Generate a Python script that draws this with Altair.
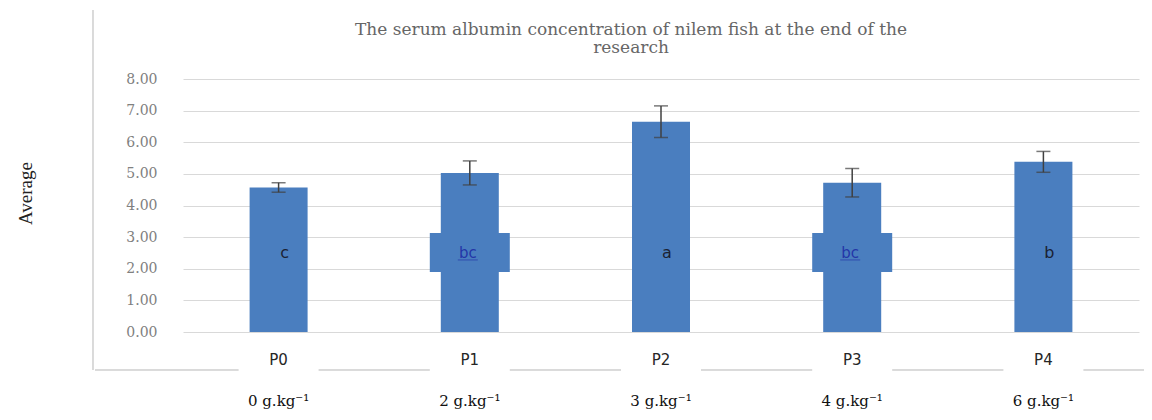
import altair as alt
import pandas as pd

# ---- data ----
title_text = "The serum albumin concentration of nilem fish at the end of the\nresearch"
groups = ["P0", "P1", "P2", "P3", "P4"]
doses = ["0 g.kg\u207b\u00b9", "2 g.kg\u207b\u00b9", "3 g.kg\u207b\u00b9", "4 g.kg\u207b\u00b9", "6 g.kg\u207b\u00b9"]
means = [4.57, 5.03, 6.65, 4.72, 5.38]
errors = [0.15, 0.38, 0.50, 0.45, 0.33]
letters = ["c", "bc", "a", "bc", "b"]
highlight = [False, True, False, True, False]
letter_pos = [2.5, 2.5, 2.5, 2.5, 2.5]
box_low = [1.9, 1.9, 1.9, 1.9, 1.9]
box_high = [3.13, 3.13, 3.13, 3.13, 3.13]
y_ticks = [0, 1, 2, 3, 4, 5, 6, 7, 8]

df = pd.DataFrame({
    "group": groups,
    "dose": doses,
    "mean": means,
    "lo": [m - e for m, e in zip(means, errors)],
    "hi": [m + e for m, e in zip(means, errors)],
    "letter": letters,
    "hl": highlight,
    "lpos": letter_pos,
    "blo": box_low,
    "bhi": box_high,
})
title_df = pd.DataFrame({"t": [title_text]})

BLUE = "#4A7EBF"
W, H = 956, 253

xs = alt.Scale(paddingInner=0.7, paddingOuter=0.35)
x_axis = alt.Axis(title=None, labelAngle=0, domain=False, ticks=False, grid=False,
                  labelPadding=20, labelFont="DejaVu Sans", labelFontSize=15,
                  labelColor="#262626", zindex=2)
ys = alt.Scale(domain=[0, 8], nice=False)
y_axis = alt.Axis(values=y_ticks, format=".2f", title="Average", labelOverlap=False,
                  domain=False, ticks=False, labelPadding=26,
                  labelFont="DejaVu Serif", labelFontSize=14, labelColor="#808080",
                  gridColor="#d9d9d9", gridWidth=1.2,
                  titleFont="Liberation Serif", titleFontSize=19,
                  titleFontWeight="normal", titleColor="#222222",
                  titleX=-158, titleY=114, titleAngle=-90,
                  titleAlign="center", titleBaseline="middle")


def X():
    return alt.X("group:N", sort=groups, scale=xs, axis=x_axis)


def Y(f):
    return alt.Y(f, scale=ys, axis=y_axis)


base = alt.Chart(df)

frame_v = base.mark_rule(color="#d9d9d9", strokeWidth=1).encode(
    x=alt.value(-90), y=alt.value(-69), y2=alt.value(291))
frame_h = base.mark_rule(color="#d9d9d9", strokeWidth=1).encode(
    x=alt.value(-88), x2=alt.value(975), y=alt.value(291))
masks = base.mark_bar(color="white", size=80).encode(
    x=X(), y=alt.value(284), y2=alt.value(298))

bars = base.mark_bar(color=BLUE, size=58).encode(x=X(), y=Y("mean:Q"))
boxes = base.transform_filter("datum.hl").mark_bar(color=BLUE, size=80).encode(
    x=X(), y=Y("blo:Q"), y2="bhi:Q")

err_rule = base.mark_rule(color="#404040", strokeWidth=1.5).encode(
    x=X(), y=Y("lo:Q"), y2="hi:Q")
cap_hi = base.mark_tick(color="#404040", size=14, thickness=1.5, orient="horizontal").encode(
    x=X(), y=Y("hi:Q"))
cap_lo = base.mark_tick(color="#404040", size=14, thickness=1.5, orient="horizontal").encode(
    x=X(), y=Y("lo:Q"))

txt_plain = base.transform_filter("!datum.hl").mark_text(
    font="DejaVu Sans", fontSize=16, color="#1a2233", dx=6, baseline="middle").encode(
    x=X(), y=Y("lpos:Q"), text="letter:N")
txt_hl = base.transform_filter("datum.hl").mark_text(
    font="DejaVu Sans", fontSize=15, color="#2436a8", dx=-2, baseline="middle").encode(
    x=X(), y=Y("lpos:Q"), text="letter:N")
underline = base.transform_filter("datum.hl").mark_tick(
    color="#2436a8", size=20, thickness=1, orient="horizontal", xOffset=-2, yOffset=7).encode(
    x=X(), y=Y("lpos:Q"))

doses_txt = base.mark_text(font="DejaVu Serif", fontSize=15, color="#111111",
                           baseline="middle").encode(
    x=X(), y=alt.value(322), text="dose:N")

title_mark = alt.Chart(title_df).mark_text(
    font="DejaVu Serif", fontSize=17, color="#666666", lineBreak="\n",
    lineHeight=18, align="center", baseline="middle").encode(
    x=alt.value(448), y=alt.value(-49), text="t:N")

chart = alt.layer(
    frame_v, frame_h, masks, bars, boxes, err_rule, cap_hi, cap_lo,
    txt_plain, txt_hl, underline, doses_txt, title_mark
).properties(
    width=W, height=H,
    background="white",
    autosize=alt.AutoSizeParams(type="none"),
    padding={"left": 175, "top": 71, "right": 5, "bottom": 90},
).configure_view(stroke="transparent", strokeWidth=0)

chart.save("out.html", embed_options={"renderer": "svg", "actions": False})
